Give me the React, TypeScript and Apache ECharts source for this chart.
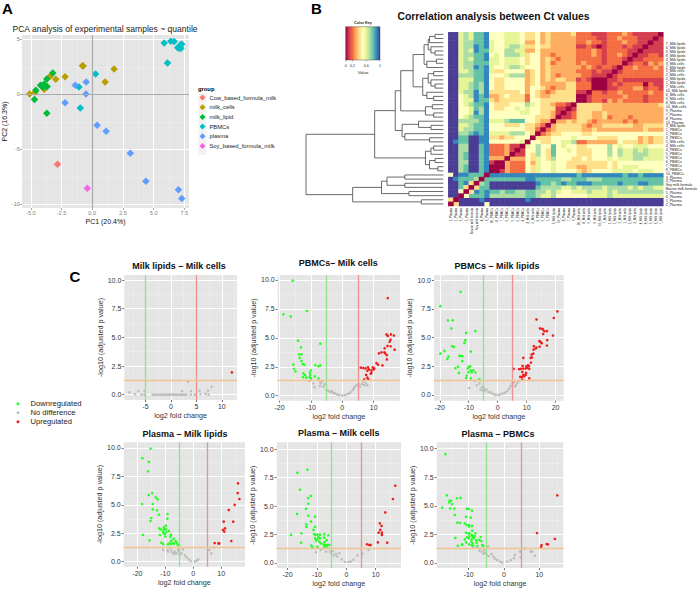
import React, { useEffect, useRef } from "react";
import * as echarts from "echarts";

const FONT = '"Liberation Sans", Arial, sans-serif';

// ---------- Panel A data ----------
const pcaGroups = ["Cow_based_formula_milk", "milk_cells", "milk_lipid", "PBMCs", "plasma", "Soy_based_formula_milk"];
const pcaCow = [[-2.83, -6.36]];
const pcaCells = [[-5.1, 0.03], [-4.64, 0.21], [-3.91, 0.45], [-3.43, 1.64], [-2.97, 1.36], [-2.21, 1.6], [-0.73, 2.58], [1.05, 1.12], [1.78, 2.3], [-0.8, 2.6]];
const pcaLipid = [[-4.7, -0.48], [-4.59, 0.36], [-4.21, 0.82], [-4.08, 0.76], [-3.91, 0.94], [-3.99, 0.64], [-3.67, 0.7], [-3.7, 1.39], [-3.21, 1.94], [-3.7, -1.73]];
const pcaPbmc = [[5.86, 4.67], [6.4, 4.82], [6.67, 4.79], [6.96, 4.24], [7.18, 4.48], [7.29, 4.55], [7.1, 4.18], [7.23, 4.18], [6.13, 2.85], [0.27, 1.85], [-1.08, 0.67], [-0.97, -1.24]];
const pcaPlasma = [[-1.38, 0.82], [-0.49, 1.12], [-0.51, 0.03], [-2.21, -0.76], [0.4, -2.82], [1.13, -3.36], [3.1, -5.36], [4.37, -7.91], [7.02, -8.67], [7.29, -9.48]];
const pcaSoy = [[-0.4, -8.55]];
const pcaSeries = [pcaCow, pcaCells, pcaLipid, pcaPbmc, pcaPlasma, pcaSoy];

// ---------- Panel B data ----------
const rowLabels = ["7_Milk lipids", "6_Milk lipids", "9_Milk lipids", "8_Milk lipids", "4_Milk lipids", "3_Milk cells", "2_Milk lipids", "1_Milk cells", "2_Milk cells", "5_Milk lipids", "1_Milk lipids", "7_Milk cells", "10_Milk lipids", "6_Milk cells", "9_Milk cells", "8_Milk cells", "10_Milk cells", "9_Plasma", "7_Plasma", "8_Plasma", "10_Plasma", "3_Milk lipids", "1_PBMCs", "2_PBMCs", "3_PBMCs", "5_Milk cells", "4_Milk cells", "4_PBMCs", "5_PBMCs", "9_PBMCs", "6_PBMCs", "7_PBMCs", "8_PBMCs", "10_PBMCs", "3_Plasma", "4_Plasma", "Soy milk formula", "Bovine milk formula", "5_Plasma", "6_Plasma", "1_Plasma", "2_Plasma"];
// one character per cell, tenths of the colour key (a = 1); lower-left triangle, mirrored over the anti-diagonal
const heatRows = [
  "aa676889 5556665 4453433334 22211122232111110",
  "aa676889 5556665 4453433333 2222112232221110",
  "aa677889 6556665 3353433333 223221222322110",
  "aa677989 6556776 4454433333 11210122212110",
  "aa676988 6557766 3353333333 2223212222110",
  "aa677889 5657776 4553323333 222321223210",
  "aa676889 6656665 4553432333 22222122210",
  "aa677888 6656665 4553423333 2322212220",
  "aa677989 6556776 5553433333 323212210",
  "aa667889 6445555 3453433333 22212110",
  "aa777889 5556777 3453432333 3221110",
  "aa666889 5445555 3453434433 121000",
  "aa667879 5445555 3453333344 22200",
  "aa667879 5445555 3554323344 2220",
  "aa677979 4444445 3543234444 110",
  "aa567989 3345444 2543344444 00",
  "aa566988 4344444 2554444444 0",
  "aa567889 5444555 7654432210",
  "aa556879 5445565 655444110",
  "aa556979 5555556 65544310",
  "aa567889 5555555 5544430",
  "aa777789 6667888 554330",
  "aa667889 5554445 44320",
  "aa677889 5555555 4420",
  "aa778989 6666777 540",
  "aa88aa99 4434455 50",
  "a988aa99 5555556 0",
  "aa77aa89 2223110",
  "aa77aa89 222310",
  "aa78aa89 22230",
  "aa78aa89 3330",
  "aa77aa89 100",
  "aa78aa89 00",
  "aa78aa89 0",
  "5a998880",
  "a988870",
  "aa8940",
  "aa840",
  "aa50",
  "aa0",
  "40",
  "0",
];
const spectral = ["#9E0142", "#D53E4F", "#F46D43", "#FDAE61", "#FEE08B", "#FFFFBF", "#E6F598", "#ABDDA4", "#66C2A5", "#3288BD", "#4A3D96"];
// dendrogram: [merge height, child, child]; numbers are row indices
const treeCluster1: any = [14, [11, [10, [6, 0, 1], 2], [9, 3, [6, 4, 5]]], [12, [5, 6, 7], 8]];
const treeCluster2: any = [15, [11, [7, 9, 10], [9, 11, [6, 12, 13]]], [12, 14, [7, 15, 16]]];
const treeCluster3: any = [13, [8, 17, 18], [7, 19, 20]];
const treeCluster4: any = [30, [18, 21, [9, 22, 23]], [28, 24, [10, 25, 26]]];
const treeCluster5: any = [13, [9, [7, 27, 28], 29], [10, [6, 30, 31], [4, 32, 33]]];
const treeUpper: any = [50, [35, [31, [22, treeCluster1, treeCluster2], treeCluster3], treeCluster4], treeCluster5];
const treeLower: any = [66, [45, [41, [28, 34, 35], [28, 36, 37]], [25, 38, 39]], [16, 40, 41]];
const treeRoot: any = [100, treeUpper, treeLower];

// ---------- Panel C data ----------
const lcNone = [[-8.2, 0.2], [-7.1, 0.06], [-6.4, 0.32], [-5.8, 0], [-5.2, 0.32], [-5.2, 0], [-3.6, 0], [-3.3, 0], [-2.9, 0], [-2.5, 0], [-2.1, 0], [-1.7, 0], [-1.3, 0], [-1.1, 0], [-0.7, 0], [-0.4, 0], [-0.1, 0], [0.2, 0], [0.6, 0], [0.8, 0], [1.2, 0], [1.4, 0], [1.8, 0], [2.1, 0], [2.3, 0], [2.6, 0], [3, 0], [3.9, 0], [4.7, 0], [2.2, 0.32], [3.35, 1.13], [3.95, 0.32], [5.6, 0.35], [5.8, 0.06], [6.8, 0.1], [7.4, 0], [7.3, 0.35], [8, 0.7]];
const lcUp = [[12, 1.95]];
const lcDown: number[][] = [];

const pmDown = [[-15.8, 9.94], [-11.25, 7.32], [-18.8, 7.03], [-16.45, 6.86], [-14.1, 4.76], [-7, 4.5], [-13.2, 4.18], [-13.8, 3.57], [-13, 3.57], [-13.6, 3.26], [-13, 3], [-12.6, 2.74], [-12.1, 2.68], [-15.6, 2.7], [-15.4, 2.33], [-14.9, 2.1], [-8.6, 2.65], [-7.6, 2.56], [-7, 2.62], [-10, 2.2], [-10.3, 2], [-12.4, 1.93], [-11.9, 1.79], [-12.5, 1.6], [-11.5, 1.56], [-10.2, 1.8], [-10.4, 1.6], [-10, 1.5], [-8.8, 1.67], [-7.6, 1.5]];
const pmNone = [[-10.5, 1.27], [-9.2, 1.07], [-8.9, 0.72], [-7.3, 1.3], [-6.9, 1.07], [-7.1, 0.84], [-6.6, 1.2], [-6, 0.78], [-5.7, 1], [-5, 0.5], [-4.5, 0.43], [-3.9, 0.32], [-3.4, 0.4], [-2.9, 0.26], [-2.3, 0.2], [-1.6, 0.12], [-1, 0.06], [0, 0.03], [0.85, 0.06], [1.6, 0.14], [2.2, 0.2], [2.65, 0.32], [3.3, 0.5], [3.7, 0.63], [4, 0.78], [4.6, 0.9], [5.1, 1], [5.6, 0.78], [6.2, 1], [6.7, 1.2], [7, 0.92], [7.5, 1.07], [8, 0.9]];
const pmUp = [[14.5, 8.44], [14.1, 5.3], [15.5, 5.3], [14.5, 5.16], [16.45, 5.2], [15.4, 4.84], [15.1, 4.67], [13.5, 4.1], [14.4, 4.3], [15.4, 4.27], [16.7, 3.98], [11.7, 3.66], [12.5, 3.75], [13.4, 3.75], [13.7, 3.66], [14.2, 3.5], [14.2, 3.14], [10.9, 2.82], [11.4, 2.68], [12.8, 2.62], [5.9, 2.42], [6.7, 2.39], [7.4, 2.36], [8.2, 2.45], [8.5, 2.28], [9.7, 2.45], [10, 2.28], [9.3, 2.2], [10.2, 2.36], [9.3, 2], [9.1, 1.9], [8, 2.16], [7.6, 1.8], [8, 1.56], [7, 1.41], [8.3, 1.41]];

const plDown = [[-12.8, 8.98], [-19.8, 7.73], [-17.2, 6.5], [-15.5, 6.5], [-16, 5.8], [-10.9, 5.4], [-11.2, 4.77], [-19.8, 3.6], [-18.4, 3.84], [-17, 3.34], [-17.4, 3.14], [-15.7, 4.24], [-15.1, 4.19], [-13.2, 3.4], [-12.2, 3.37], [-12.2, 2.94], [-13.7, 2.47], [-14.6, 2.33], [-13.4, 1.92], [-11.5, 4.53], [-7.7, 5.55], [-9.3, 3.78], [-12.9, 3.4], [-9.5, 2.5], [-10, 2.44], [-10.3, 2.3], [-8.4, 2.15], [-9.3, 2.15], [-10.1, 1.98], [-9, 1.98], [-7.7, 1.95], [-10.7, 1.69], [-9.3, 1.45], [-10.9, 1.48], [-6.3, 1.37]];
const plNone = [[-9.8, 0.6], [-7.8, 1.22], [-7.2, 0.84], [-6.3, 1], [-5.9, 0.47], [-5.4, 0.7], [-5.2, 0.4], [-4.7, 0.55], [-4.4, 0.35], [-3.8, 0.47], [-3.2, 0.26], [-2.4, 0.23], [-1.7, 0.09], [-0.9, 0.03], [0, 0], [0.8, 0.03], [1.7, 0.12], [2.5, 0.2], [3.3, 0.35], [4, 0.55], [4.5, 0.78], [5.1, 1], [5.6, 1.1], [6.3, 0.84], [6.8, 1.05], [7.5, 1.22], [6, 0.75]];
const plUp = [[20.6, 7.27], [19.4, 6.7], [13.4, 6.57], [14.6, 5.8], [15.4, 5.76], [15.6, 5.7], [16.1, 5.55], [17, 5.55], [15.7, 5.3], [19.1, 5.17], [14.4, 4.68], [14.8, 4.62], [17.1, 4.77], [15.2, 4.5], [17, 4.3], [14.5, 4.2], [13.4, 4.13], [12.5, 4.24], [13.1, 4.04], [12.4, 3.95], [12.3, 3.6], [11.7, 3.52], [11.4, 3.23], [11.8, 3.26], [8.85, 3.23], [11.5, 2.82], [5.5, 2.27], [7.4, 2.24], [8, 2.27], [8.6, 2.53], [8.85, 2.3], [9.65, 2.3], [9.9, 2.5], [10.5, 2.59], [10.8, 2.5], [10.2, 2.35], [10.9, 2.27], [8.5, 2], [9.8, 1.92], [8.85, 1.74], [7.8, 1.57], [8.4, 1.57], [9.2, 1.63], [9.65, 1.74], [10.9, 1.45], [8.5, 1.34]];

const qlDown = [[-15.3, 9.94], [-18.2, 9.1], [-15.9, 8.77], [-16.2, 7.95], [-14.7, 6.04], [-15.9, 5.87], [-13.4, 5.66], [-12.7, 5.48], [-14.5, 5.07], [-18.3, 5.07], [-14.5, 4.6], [-13, 4.52], [-12.3, 4.13], [-9.2, 4.19], [-9.3, 3.78], [-15.05, 3.84], [-15.3, 3.58], [-9.8, 3.17], [-10.5, 3.02], [-12.2, 2.93], [-11.7, 2.84], [-10.5, 2.9], [-9.9, 2.84], [-8.7, 2.7], [-10.75, 2.73], [-12, 2.35], [-10.75, 2.55], [-10.2, 2.43], [-9.6, 2.6], [-10, 2.2], [-8, 2.38], [-8.2, 2.2], [-7, 2.02], [-6.3, 1.82], [-7.8, 1.85], [-8.4, 1.67], [-9.1, 1.52], [-11.4, 1.67], [-10.75, 1.55], [-8.1, 1.55], [-7.3, 1.6], [-6, 1.67], [-6.9, 1.6], [-5.6, 1.5], [-5.1, 1.47], [-15.65, 1.88], [-18, 2.35]];
const qlNone = [[-10.75, 1.03], [-9.3, 1], [-8.4, 1.17], [-7.8, 1], [-9, 0.88], [-7.4, 0.79], [-6.6, 0.88], [-6.8, 0.67], [-6, 0.73], [-5.4, 1], [-5, 0.82], [-4.8, 0.59], [-5.1, 1.08], [-3.7, 1.08], [-4.2, 0.73], [-3, 0.56], [-2.4, 0.38], [-1.55, 0.2], [-0.95, 0.06], [0.5, 0.03], [1.2, 0.09], [1.8, 0.2], [5.7, 1.03], [6.45, 0.73], [7.4, 1.26]];
const qlUp = [[16, 6.89], [15.9, 6.04], [16.5, 5.51], [14.8, 5], [12.7, 4.55], [10.9, 3.52], [14.3, 3.52], [11.35, 2.93], [10.6, 2.79], [11.1, 2.64], [13.6, 1.82], [7.65, 1.64], [9.3, 1.61], [9, 1.61]];

const qcDown = [[-13.25, 8.19], [-16.65, 7.92], [-15.75, 6.43], [-12.1, 5.88], [-13, 5.7], [-12.9, 5.2], [-13.7, 4.77], [-16.8, 4.3], [-12.9, 4.15], [-10.65, 4.06], [-12, 3.63], [-13.6, 3.39], [-13.6, 3.16], [-10.65, 3.16], [-11.2, 2.9], [-18.8, 2.46], [-15.3, 2.6], [-11, 2.54], [-10.5, 2.46], [-9.85, 2.49], [-8.95, 2.49], [-9.5, 2.28], [-7.5, 2.54], [-6.1, 2.43], [-10.65, 2.16], [-9.85, 2.08], [-8.95, 2.16], [-10.3, 1.96], [-9.2, 1.87], [-7.6, 2.22], [-6.7, 2], [-7.4, 1.84], [-15.4, 1.78], [-11.9, 1.52], [-11.55, 1.4], [-9.85, 1.43], [-8.7, 1.72], [-7.8, 1.64], [-7.25, 1.58], [-6.45, 1.58], [-5.8, 1.58], [-7.5, 1.43], [-6.7, 1.43]];
const qcNone = [[-10.3, 0.94], [-8.7, 1.14], [-7.8, 1.26], [-6.1, 1.29], [-6.9, 1], [-5.55, 1], [-5, 0.85], [-4.65, 1.05], [-4.2, 0.67], [-3.5, 0.79], [-3.05, 0.56], [-2.4, 0.85], [-1.6, 0.32], [-0.45, 0.09], [0.7, 0.09], [1.5, 0.12], [2.4, 0.29], [3.75, 0.67], [5.4, 0.82], [7.6, 1.14]];
const qcUp = [[16.65, 6.78], [15.85, 5.61], [13.25, 4.44], [11.4, 3.48], [12, 3.25], [11.55, 2.9], [11, 2.66], [12.1, 2.66], [12.1, 2.46], [10.75, 1.81], [13.9, 1.78], [7, 1.64], [7.8, 1.58], [8.25, 1.58]];

const qpDown = [[-16.6, 9.53], [-16.2, 5.92], [-15.4, 5.45], [-15, 5.45], [-15.5, 5.3], [-14.7, 5.16], [-15.3, 4.78], [-17.5, 4.84], [-14.05, 4.75], [-13.3, 5.66], [-12.3, 5.69], [-13.9, 4.2], [-13.2, 3.53], [-12.45, 3.5], [-13.8, 2.2], [-13.1, 1.5], [-11.8, 1.63], [-10.5, 4.75], [-10.75, 4.05], [-11.1, 3.47], [-10.6, 3.32], [-9.9, 3.32], [-10, 2.6], [-10.75, 2.65], [-10.5, 2.25], [-11.1, 2.07], [-10.75, 1.8], [-9.9, 1.63], [-10, 2.16], [-9.9, 4.72], [-9.05, 4.58], [-9.4, 3.97], [-9.9, 3.18], [-9.05, 3.24], [-9, 2.83], [-9.8, 2.6], [-9.15, 2.45], [-8.1, 2.6], [-9.8, 2.36], [-8.9, 2.3], [-8.3, 2.36], [-6.6, 2.27], [-9.15, 2.07], [-8.5, 2.19], [-7, 2.01], [-9.25, 1.87], [-7.9, 2], [-8.9, 1.72], [-7.75, 1.78], [-6.4, 1.92], [-11.9, 1.6], [-9.15, 1.57], [-8.7, 1.49], [-6.2, 1.57], [-5.85, 1.49], [-7.55, 1.49]];
const qpNone = [[-8.7, 1.34], [-7.75, 1.37], [-6.8, 1.28], [-4.5, 1.46], [-7, 1.08], [-6.3, 0.99], [-5.65, 1.14], [-5.4, 0.9], [-4.9, 0.76], [-5.85, 0.79], [-4.4, 0.61], [-3.5, 0.79], [-3, 0.55], [-2.55, 0.38], [-1.9, 0.26], [-1.1, 0.12], [-0.5, 0.03], [0.95, 0.12], [1.9, 0.26], [2.8, 0.41], [3.1, 0.7], [4.5, 1], [4.7, 0.5], [5.75, 1.28], [7.6, 0.99], [8, 1], [8.7, 0.64]];
const qpUp = [[15.1, 5.92], [9.35, 2.62], [14.4, 2.1], [12.1, 1.66], [12.45, 1.63], [10.65, 1.57], [10.5, 1.4]];

const volcanoTitles = ["Milk lipids – Milk cells", "PBMCs– Milk cells", "PBMCs – Milk lipids", "Plasma – Milk lipids", "Plasma – Milk cells", "Plasma – PBMCs"];
const volcanoSets = [
  [lcDown, lcNone, lcUp], [pmDown, pmNone, pmUp], [plDown, plNone, plUp],
  [qlDown, qlNone, qlUp], [qcDown, qcNone, qcUp], [qpDown, qpNone, qpUp],
];
const volcanoXTicks = [[-5, 0, 5, 10], [-20, -10, 0, 10], [-20, -10, 0, 10, 20], [-20, -10, 0, 10], [-20, -10, 0, 10], [-10, 0, 10]];
const volcanoYTicks = [0, 2.5, 5, 7.5, 10];
const volcanoClasses = ["Downregulated", "No difference", "Upregulated"];

// ---------- Layout (pixels) ----------
const volcanoLayout = [
  { l: 124.3, r: 237, t: 275, b: 400, xmin: -9.2, xmax: 13, ymin: -0.46, ymax: 10.44, cx: 179, ty: 265.7, step: 5 },
  { l: 277.7, r: 400, t: 275, b: 400.7, xmin: -20.6, xmax: 18.4, ymin: -0.43, ymax: 10.43, cx: 338.3, ty: 263, step: 10 },
  { l: 434, r: 563.7, t: 275, b: 400.7, xmin: -22, xmax: 22.8, ymin: -0.5, ymax: 10.44, cx: 497, ty: 265.7, step: 10 },
  { l: 123.7, r: 245, t: 442.3, b: 566.7, xmin: -24.9, xmax: 18.5, ymin: -0.44, ymax: 10.5, cx: 185, ty: 433.7, step: 10 },
  { l: 276.7, r: 401, t: 442.3, b: 568, xmin: -23.7, xmax: 18.6, ymin: -0.44, ymax: 10.59, cx: 338.8, ty: 432.7, step: 10 },
  { l: 436.7, r: 563.3, t: 442.3, b: 568, xmin: -19.07, xmax: 16.8, ymin: -0.44, ymax: 10.56, cx: 498, ty: 433.7, step: 10 },
];
const pcaColors = ["#F8766D", "#B79F00", "#00BA38", "#00BFC4", "#619CFF", "#F564E3"];
const volcanoColors = ["#22FF22", "#BDBDBD", "#F01A1A"];

function dendroSegments(root: any) {
  const out: any[] = [];
  const walk = (n: any): { h: number; y: number } => {
    if (typeof n === "number") return { h: 0, y: n + 0.5 };
    const a = walk(n[1]);
    const b = walk(n[2]);
    out.push([a.h, a.y], [n[0], a.y], [n[0], b.y], [b.h, b.y], ["-", "-"]);
    return { h: n[0], y: (a.y + b.y) / 2 };
  };
  walk(root);
  return out;
}

function heatCells() {
  const cells: number[][] = [];
  heatRows.forEach((row, r) => {
    row.replace(/ /g, "").split("").forEach((ch, c) => {
      const v = ch === "a" ? 1 : Number(ch) / 10;
      cells.push([c, r, v]);
      if (c !== 41 - r) cells.push([41 - r, 41 - c, v]);
    });
  });
  return cells;
}

function midpoints(ticks: number[], step: number, lo: number, hi: number) {
  const res: number[] = [];
  const all = [ticks[0] - step, ...ticks, ticks[ticks.length - 1] + step];
  for (let i = 0; i < all.length - 1; i++) {
    const m = (all[i] + all[i + 1]) / 2;
    if (m > lo && m < hi) res.push(m);
  }
  return res;
}

function buildOption() {
  const grid: any[] = [];
  const xAxis: any[] = [];
  const yAxis: any[] = [];
  const series: any[] = [];
  const graphic: any[] = [];

  const text = (t: string, x: number, y: number, font: string, fill = "#000", align = "left") =>
    graphic.push({ type: "text", x, y, silent: true, style: { text: t, font: `${font} ${FONT}`, fill, align, verticalAlign: "middle" } });

  const plain = (gridIndex: number, min: number, max: number, position: string, inverse = false) => ({
    type: "value", gridIndex, min, max, position, inverse, axisLine: { show: false, onZero: false }, axisTick: { show: false },
    axisLabel: { show: false }, splitLine: { show: false },
  });

  // adds a ggplot-like panel and returns the axis indexes its series use
  const ggPanel = (p: any, xticks: number[], yticks: number[], xminor: number[], yminor: number[], xname: string, yname: string, st: any) => {
    const gridIndex = grid.length;
    grid.push({ left: p.l, top: p.t, width: p.r - p.l, height: p.b - p.t, show: true, backgroundColor: "#E5E5E5", borderWidth: 0 });
    const mkAxis = (min: number, max: number, ticks: number[], position: string, name: string, fmt: any, gap: number) => ({
      type: "value", gridIndex, min, max, position, name, nameLocation: "middle", nameGap: gap,
      nameTextStyle: { fontFamily: FONT, fontSize: st.nameSize, color: st.nameColor },
      axisLine: { show: false, onZero: false },
      axisTick: { show: true, length: 2, customValues: ticks, lineStyle: { color: st.tickColor, width: 0.7 } },
      axisLabel: { show: true, customValues: ticks, formatter: fmt, margin: st.margin, fontFamily: FONT, fontSize: st.labelSize, color: st.labelColor },
      splitLine: { show: true, lineStyle: { color: "#FFFFFF", width: 1 } },
    });
    const xi = xAxis.length;
    xAxis.push(mkAxis(p.xmin, p.xmax, xticks, "bottom", xname, st.xfmt, st.xGap));
    const yi = yAxis.length;
    yAxis.push(mkAxis(p.ymin, p.ymax, yticks, "left", yname, st.yfmt, st.yGap));
    const mkMinor = (min: number, max: number, ticks: number[], position: string) => ({
      type: "value", gridIndex, min, max, position, axisLine: { show: false, onZero: false }, axisLabel: { show: false },
      axisTick: { show: false, customValues: ticks },
      splitLine: { show: true, lineStyle: { color: "#F1F1F1", width: 0.5 } },
    });
    xAxis.push(mkMinor(p.xmin, p.xmax, xminor, "top"));
    yAxis.push(mkMinor(p.ymin, p.ymax, yminor, "right"));
    return { xi, yi };
  };

  // ---- Panel A ----
  const pcaBox = { l: 21, r: 189, t: 35, b: 208, xmin: -5.72, xmax: 7.88, ymin: -10.34, ymax: 5.39 };
  const a = ggPanel(pcaBox, [-5, -2.5, 0, 2.5, 5, 7.5], [-10, -5, 0, 5], [-3.75, -1.25, 1.25, 3.75, 6.25], [-7.5, -2.5, 2.5], "PC1 (20.4%)", "PC2 (16.3%)", {
    nameSize: 7, nameColor: "#111", tickColor: "#7F7F7F", labelSize: 5.6, labelColor: "#7F7F7F", margin: 2,
    xfmt: (v: number) => v.toFixed(1), yfmt: (v: number) => String(v), xGap: 9.5, yGap: 13,
  });
  pcaGroups.forEach((name, i) => {
    series.push({
      type: "scatter", name, xAxisIndex: a.xi, yAxisIndex: a.yi, data: pcaSeries[i], symbol: "diamond", symbolSize: 7.5,
      itemStyle: { color: pcaColors[i], opacity: 1 }, silent: true,
      ...(i === 0 ? {
        markLine: {
          silent: true, symbol: "none", label: { show: false }, animation: false,
          lineStyle: { color: "#ABABAB", width: 1.2, type: "solid" }, data: [{ xAxis: 0 }, { yAxis: 0 }],
        },
      } : {}),
    });
  });
  text("A", 2, 8, "bold 15px");
  text("PCA analysis of experimental samples ~ quantile", 12.5, 29, "8.55px", "#222");
  text("group", 198, 88.5, "bold 5.8px");
  pcaGroups.forEach((_, i) => graphic.push({ type: "rect", silent: true, z: -1, shape: { x: 198.5, y: 93.3 + i * 10.3, width: 8, height: 10 }, style: { fill: "#F2F2F2" } }));

  // ---- Panel B: dendrogram ----
  const heatTop = 32.3, heatH = 173.7;
  const dGrid = grid.length;
  grid.push({ left: 306, top: heatTop, width: 137.3, height: heatH });
  const dx = xAxis.length, dy = yAxis.length;
  xAxis.push({ ...plain(dGrid, 0, 100, "bottom", true), show: false });
  yAxis.push({ ...plain(dGrid, 0, 42, "left", true), show: false });
  series.push({
    type: "line", xAxisIndex: dx, yAxisIndex: dy, data: dendroSegments(treeRoot), symbol: "none", showSymbol: false, silent: true,
    connectNulls: false, clip: false, lineStyle: { color: "#444", width: 0.8 },
  });

  // ---- Panel B: heat map ----
  const hGrid = grid.length;
  grid.push({ left: 448.3, top: heatTop, width: 215, height: heatH });
  const hx = xAxis.length, hy = yAxis.length;
  xAxis.push({
    type: "category", gridIndex: hGrid, data: [...rowLabels].reverse(), position: "bottom", axisLine: { show: false }, axisTick: { show: false }, splitLine: { show: false },
    axisLabel: { interval: 0, rotate: 90, margin: 2, fontSize: 3, color: "#222", fontFamily: FONT },
  });
  yAxis.push({
    type: "category", gridIndex: hGrid, inverse: true, data: rowLabels, axisLine: { show: false }, axisTick: { show: false }, axisLabel: { show: false }, splitLine: { show: false },
  });
  const heatIndex = series.length;
  series.push({ type: "heatmap", xAxisIndex: hx, yAxisIndex: hy, data: heatCells(), silent: true, itemStyle: { borderWidth: 0 }, progressive: 0 });

  // row labels sit on their own, slightly tighter, axis
  const lGrid = grid.length;
  grid.push({ left: 663, top: 42, width: 2, height: 165 });
  const lx = xAxis.length, ly = yAxis.length;
  xAxis.push({ ...plain(lGrid, 0, 1, "bottom"), show: false });
  yAxis.push({
    type: "category", gridIndex: lGrid, inverse: true, position: "right", data: rowLabels, axisLine: { show: false }, axisTick: { show: false }, splitLine: { show: false },
    axisLabel: { interval: 0, margin: 2, fontSize: 3.6, color: "#222", fontFamily: FONT },
  });
  series.push({ type: "scatter", xAxisIndex: lx, yAxisIndex: ly, data: [], silent: true });

  text("B", 311, 8, "bold 15px");
  text("Correlation analysis between Ct values", 493.5, 16, "bold 10.35px", "#111", "center");
  text("Color Key", 363, 23.2, "bold 3.8px", "#222", "center");
  graphic.push({
    type: "rect", silent: true, shape: { x: 345.7, y: 26.7, width: 34.3, height: 33.3 },
    style: {
      fill: { type: "linear", x: 0, y: 0, x2: 1, y2: 0, colorStops: spectral.map((color, i) => ({ offset: i / 10, color })) },
      stroke: "#333", lineWidth: 0.4,
    },
  });
  [[0, "0"], [0.2, "0.2"], [0.6, "0.6"], [1, "1"]].forEach(([v, t]: any) => {
    const x = 345.7 + v * 34.3;
    graphic.push({ type: "line", silent: true, shape: { x1: x, y1: 60, x2: x, y2: 61.5 }, style: { stroke: "#333", lineWidth: 0.4 } });
    text(t, x, 66, "3.6px", "#222", "center");
  });
  text("Value", 363, 72.3, "4.3px", "#222", "center");

  // ---- Panel C ----
  volcanoLayout.forEach((p, i) => {
    const yminor = [1.25, 3.75, 6.25, 8.75];
    const ax = ggPanel(p, volcanoXTicks[i], volcanoYTicks, midpoints(volcanoXTicks[i], p.step, p.xmin, p.xmax), yminor, "log2 fold change", "-log10 (adjusted p value)", {
      nameSize: 7.2, nameColor: "#333", tickColor: "#333", labelSize: 7, labelColor: "#333", margin: 3,
      xfmt: (v: number) => String(v), yfmt: (v: number) => v.toFixed(1), xGap: 12, yGap: 15,
    });
    volcanoClasses.forEach((name, k) => {
      series.push({
        type: "scatter", name, xAxisIndex: ax.xi, yAxisIndex: ax.yi, data: volcanoSets[i][k], symbol: "circle", symbolSize: 2.6,
        itemStyle: { color: volcanoColors[k], opacity: 1 }, silent: true,
        ...(k === 1 ? {
          markLine: {
            silent: true, symbol: "none", label: { show: false }, animation: false,
            data: [
              { xAxis: -5, lineStyle: { color: "#8FE08F", width: 1.3, type: "solid" } },
              { xAxis: 5, lineStyle: { color: "#EE8E8E", width: 1.3, type: "solid" } },
              { yAxis: 1.3, lineStyle: { color: "#EFC48F", width: 1.3, type: "solid" } },
            ],
          },
        } : {}),
      });
    });
    text(volcanoTitles[i], p.cx, p.ty, "bold 9px", "#111", "center");
  });
  text("C", 69.5, 276, "bold 15px");

  return {
    animation: false,
    backgroundColor: "#FFFFFF",
    grid, xAxis, yAxis, series, graphic,
    visualMap: [{ show: false, type: "continuous", seriesIndex: heatIndex, dimension: 2, min: 0, max: 1, inRange: { color: spectral } }],
    legend: [
      {
        data: pcaGroups, orient: "vertical", left: 199.5, top: 94.5, padding: 0, itemWidth: 6, itemHeight: 6, itemGap: 3.7, selectedMode: false,
        textStyle: { fontFamily: FONT, fontSize: 5.8, color: "#222", padding: [0, 0, 0, -1] },
      },
      {
        data: volcanoClasses, orient: "vertical", left: 16.5, top: 399.5, padding: 0, itemWidth: 3, itemHeight: 3, itemGap: 0.5, selectedMode: false,
        textStyle: { fontFamily: FONT, fontSize: 7.6, color: "#222", padding: [0, 0, 0, 6], lineHeight: 8.5 },
      },
    ],
  };
}

export default function App() {
  const ref = useRef<HTMLDivElement>(null);
  useEffect(() => {
    const chart = echarts.init(ref.current as HTMLDivElement, undefined, { renderer: "svg" });
    chart.setOption(buildOption() as any);
    return () => chart.dispose();
  }, []);
  return <div ref={ref} style={{ position: "absolute", left: 0, top: 0, width: 700, height: 589 }} />;
}
